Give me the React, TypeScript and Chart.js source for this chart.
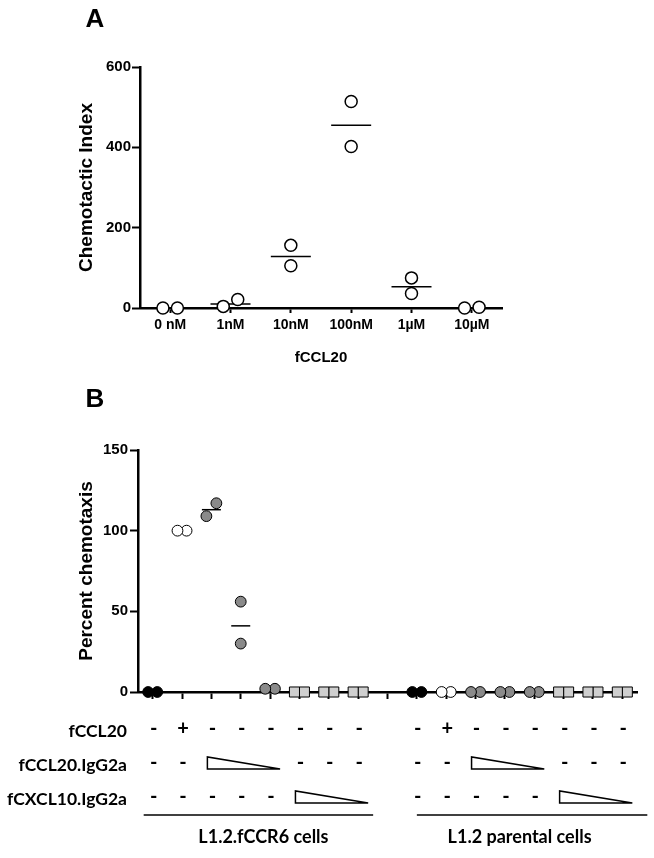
import React, { useEffect, useRef } from "react";
import { Chart, registerables } from "chart.js";

Chart.register(...registerables);

// ---------- Panel A data ----------
const doseLabels = ["0 nM", "1nM", "10nM", "100nM", "1µM", "10µM"];
const indexRep1 = [0, 4, 156, 514, 75, 0];
const indexRep2 = [0, 21, 105, 402, 36, 2];
const indexMean = [0, 10, 128, 455, 53, 0];
const doseJitter = [0.12, 0.12, 0, 0, 0, 0.12];
const indexTicks = [0, 200, 400, 600];

// ---------- Panel B data ----------
const markerKind = ["black", "white", "gray", "gray", "gray", "square", "square", "square", "",
  "black", "white", "gray", "gray", "gray", "square", "square", "square"];
const pctRep1 = [0, 100, 109, 56, 2, 0, 0, 0, null, 0, 0, 0, 0, 0, 0, 0, 0];
const pctRep2 = [0, 100, 117, 30, 2, 0, 0, 0, null, 0, 0, 0, 0, 0, 0, 0, 0];
const pctMean = [0, 100, 113, 41, 2, 0, 0, 0, null, 0, 0, 0, 0, 0, 0, 0, 0];
const pctJitter = [0.155, 0.155, 0.17, 0, 0.165, 0.17, 0.17, 0.17, 0,
  0.155, 0.155, 0.155, 0.155, 0.155, 0.17, 0.17, 0.17];
const pctTicks = [0, 50, 100, 150];

const rowLabels = ["fCCL20", "fCCL20.IgG2a", "fCXCL10.IgG2a"];
const rowCCL20 = ["-", "+", "-", "-", "-", "-", "-", "-", "", "-", "+", "-", "-", "-", "-", "-", "-"];
const rowCCL20Ig = ["-", "-", "tri", "tri", "tri", "-", "-", "-", "", "-", "-", "tri", "tri", "tri", "-", "-", "-"];
const rowCXCL10Ig = ["-", "-", "-", "-", "-", "tri", "tri", "tri", "", "-", "-", "-", "-", "-", "tri", "tri", "tri"];
const groupLabels = ["L1.2.fCCR6 cells", "L1.2 parental cells"];
const groupStart = [0, 9];
const groupEnd = [7, 16];

// ---------- styles ----------
const AXIS_FONT = "'Liberation Sans', Arial, Helvetica, sans-serif";
const TABLE_FONT = "Lato, 'Open Sans', sans-serif";
const kindFill: Record<string, string> = { black: "#000000", white: "#ffffff", gray: "#8a8a8a", square: "#cfcfcf" };
const underlinePadL = [9, 0];
const underlinePadR = [15, 25];
const groupLabelShift = [8, 0];

function letterPlugin(letter: string, x: number, y: number) {
  return {
    id: "letter" + letter,
    afterDraw(chart: any) {
      const ctx = chart.ctx;
      ctx.save();
      ctx.fillStyle = "#000";
      ctx.font = `bold 26px ${AXIS_FONT}`;
      ctx.textAlign = "center";
      ctx.textBaseline = "middle";
      ctx.fillText(letter, x, y);
      ctx.restore();
    },
  };
}

function axisCommon(tickLength: number, tickPad: number) {
  return {
    grid: { display: true, drawOnChartArea: false, drawTicks: true, tickLength, tickWidth: 2, color: "#000" },
    border: { display: true, width: 2.5, color: "#000" },
    ticks: { color: "#000", padding: tickPad, font: { family: AXIS_FONT, weight: "bold", size: 15 } },
  };
}

const tablePlugin = {
  id: "conditionTable",
  afterDraw(chart: any) {
    const ctx = chart.ctx;
    const xs = chart.scales.x;
    const px = (i: number) => xs.getPixelForValue(i);
    const rows = [rowCCL20, rowCCL20Ig, rowCXCL10Ig];
    const rowY = [359, 393, 427];
    ctx.save();
    ctx.fillStyle = "#000";
    ctx.strokeStyle = "#000";
    // row labels
    ctx.font = `bold 17.5px ${TABLE_FONT}`;
    ctx.textAlign = "right";
    ctx.textBaseline = "middle";
    rowLabels.forEach((t, r) => ctx.fillText(t, 127, rowY[r] + 2));
    // cells
    ctx.textAlign = "center";
    rows.forEach((row, r) => {
      const y = rowY[r];
      let i = 0;
      while (i < row.length) {
        const v = row[i];
        if (v === "tri") {
          let j = i;
          while (j + 1 < row.length && row[j + 1] === "tri") j++;
          const x0 = px(i) - 4;
          const x1 = px(j) + 10;
          ctx.beginPath();
          ctx.moveTo(x0, y - 6);
          ctx.lineTo(x0, y + 6);
          ctx.lineTo(x1, y + 6);
          ctx.closePath();
          ctx.fillStyle = "#fff";
          ctx.fill();
          ctx.lineWidth = 1.5;
          ctx.stroke();
          ctx.fillStyle = "#000";
          i = j + 1;
          continue;
        }
        if (v) {
          ctx.font = `bold 20px ${TABLE_FONT}`;
          ctx.fillText(v, px(i) + 1, y);
        }
        i++;
      }
    });
    // group underlines and labels
    ctx.lineWidth = 1.5;
    groupLabels.forEach((g, k) => {
      const a = px(groupStart[k]);
      const b = px(groupEnd[k]);
      ctx.beginPath();
      ctx.moveTo(a - underlinePadL[k], 445);
      ctx.lineTo(b + underlinePadR[k], 445);
      ctx.stroke();
      ctx.font = `bold 18px ${TABLE_FONT}`;
      ctx.fillText(g, (a + b) / 2 + groupLabelShift[k], 467);
    });
    ctx.restore();
  },
};

export default function App() {
  const refA = useRef<HTMLCanvasElement>(null);
  const refB = useRef<HTMLCanvasElement>(null);

  useEffect(() => {
    const baseA = axisCommon(5, 4);
    const baseAy = axisCommon(8, 1);
    const chartA = new Chart(refA.current as HTMLCanvasElement, {
      type: "scatter",
      data: {
        datasets: [
          {
            data: doseLabels.map((_, i) => ({ x: i - doseJitter[i], y: indexRep1[i] })),
            pointRadius: 6, pointBackgroundColor: "#fff", pointBorderColor: "#000", pointBorderWidth: 1.5, clip: false,
          },
          {
            data: doseLabels.map((_, i) => ({ x: i + doseJitter[i], y: indexRep2[i] })),
            pointRadius: 6, pointBackgroundColor: "#fff", pointBorderColor: "#000", pointBorderWidth: 1.5, clip: false,
          },
          {
            data: doseLabels.map((_, i) => ({ x: i, y: indexMean[i] })),
            pointStyle: "line", pointRadius: 20, pointBorderColor: "#000", pointBorderWidth: 1.5, clip: false,
          },
        ],
      } as any,
      options: {
        responsive: false,
        animation: false,
        devicePixelRatio: 1,
        events: [],
        plugins: { legend: { display: false }, tooltip: { enabled: false } },
        layout: { padding: { top: 67, left: 0, right: 152, bottom: 0 } },
        scales: {
          x: {
            type: "linear", min: -0.5, max: 5.5,
            afterBuildTicks: (s: any) => { s.ticks = doseLabels.map((_, i) => ({ value: i })); },
            afterFit: (s: any) => { s.height = 62; },
            ...baseA,
            ticks: { ...baseA.ticks, font: { family: AXIS_FONT, weight: "bold", size: 14 }, maxRotation: 0, autoSkip: false, callback: (v: any) => doseLabels[v] },
            title: { display: true, text: "fCCL20", color: "#000", font: { family: AXIS_FONT, weight: "bold", size: 15 }, padding: { top: 0, bottom: 3 } },
          },
          y: {
            type: "linear", min: 0, max: 600,
            afterBuildTicks: (s: any) => { s.ticks = indexTicks.map((v) => ({ value: v })); },
            afterFit: (s: any) => { s.width = 140; },
            ...baseAy,
            title: { display: true, text: "Chemotactic Index", color: "#000", font: { family: AXIS_FONT, weight: "bold", size: 19 }, padding: { top: 75, bottom: 0 } },
          },
        },
      } as any,
      plugins: [letterPlugin("A", 95, 20)],
    });

    const idx = markerKind.map((_, i) => i).filter((i) => pctRep1[i] !== null);
    const radiusOf = (i: number) => (markerKind[i] === "square" ? 7.1 : 5.4);
    const styleOf = (i: number) => (markerKind[i] === "square" ? "rect" : "circle");
    const fillOf = (i: number) => kindFill[markerKind[i]];
    const baseBx = axisCommon(7, 2);
    const baseBy = axisCommon(8, 2);
    const chartB = new Chart(refB.current as HTMLCanvasElement, {
      type: "scatter",
      data: {
        datasets: [
          {
            data: idx.map((i) => ({ x: i - pctJitter[i], y: pctRep1[i] })),
            pointStyle: idx.map(styleOf), pointRadius: idx.map(radiusOf),
            pointBackgroundColor: idx.map(fillOf), pointBorderColor: "#000", pointBorderWidth: 1, clip: false,
          },
          {
            data: idx.map((i) => ({ x: i + pctJitter[i], y: pctRep2[i] })),
            pointStyle: idx.map(styleOf), pointRadius: idx.map(radiusOf),
            pointBackgroundColor: idx.map(fillOf), pointBorderColor: "#000", pointBorderWidth: 1, clip: false,
          },
          {
            data: idx.map((i) => ({ x: i, y: pctMean[i] })),
            pointStyle: "line", pointRadius: 9.5, pointBorderColor: "#000", pointBorderWidth: 1.5, clip: false,
          },
        ],
      } as any,
      options: {
        responsive: false,
        animation: false,
        devicePixelRatio: 1,
        events: [],
        plugins: { legend: { display: false }, tooltip: { enabled: false } },
        layout: { padding: { top: 80, left: 0, right: 17, bottom: 0 } },
        scales: {
          x: {
            type: "linear", min: -0.5, max: 16.5,
            afterBuildTicks: (s: any) => { s.ticks = markerKind.map((_, i) => ({ value: i })); },
            afterFit: (s: any) => { s.height = 166; },
            ...baseBx,
            ticks: { ...baseBx.ticks, display: false },
          },
          y: {
            type: "linear", min: 0, max: 150,
            afterBuildTicks: (s: any) => { s.ticks = pctTicks.map((v) => ({ value: v })); },
            afterFit: (s: any) => { s.width = 138; },
            ...baseBy,
            title: { display: true, text: "Percent chemotaxis", color: "#000", font: { family: AXIS_FONT, weight: "bold", size: 19 }, padding: { top: 75, bottom: 0 } },
          },
        },
      } as any,
      plugins: [letterPlugin("B", 95, 30), tablePlugin],
    });

    return () => {
      chartA.destroy();
      chartB.destroy();
    };
  }, []);

  return (
    <div style={{ position: "absolute", left: 0, top: 0, width: 654, height: 858, background: "#fff" }}>
      <canvas ref={refA} width={654} height={370} style={{ position: "absolute", left: 0, top: 0, display: "block" }} />
      <canvas ref={refB} width={654} height={488} style={{ position: "absolute", left: 0, top: 370, display: "block" }} />
    </div>
  );
}
